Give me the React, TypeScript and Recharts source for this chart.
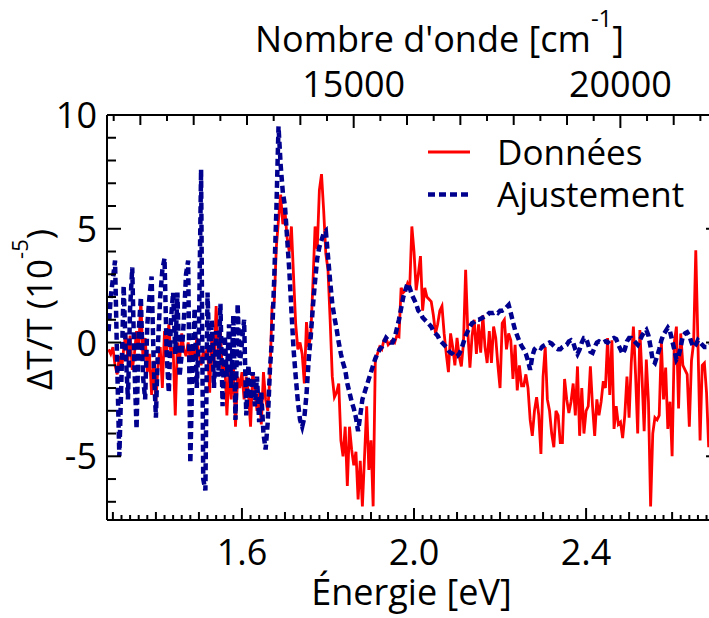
import React from "react";
import { LineChart, Line, XAxis, YAxis, Legend } from "recharts";

// énergie des points [eV]
const energie = [
  1.29, 1.295, 1.3, 1.305, 1.31, 1.315, 1.32, 1.325, 1.33, 1.335,
  1.34, 1.345, 1.35, 1.355, 1.36, 1.365, 1.37, 1.375, 1.38, 1.385,
  1.39, 1.395, 1.4, 1.405, 1.41, 1.415, 1.42, 1.425, 1.43, 1.435,
  1.44, 1.445, 1.45, 1.455, 1.46, 1.465, 1.47, 1.475, 1.48, 1.485,
  1.49, 1.495, 1.5, 1.505, 1.51, 1.515, 1.52, 1.525, 1.53, 1.535,
  1.54, 1.545, 1.55, 1.555, 1.56, 1.565, 1.57, 1.575, 1.58, 1.585,
  1.59, 1.595, 1.6, 1.605, 1.61, 1.615, 1.62, 1.625, 1.63, 1.635,
  1.64, 1.645, 1.65, 1.655, 1.66, 1.665, 1.67, 1.675, 1.68, 1.685,
  1.69, 1.695, 1.7, 1.705, 1.71, 1.715, 1.72, 1.725, 1.73, 1.735,
  1.74, 1.745, 1.75, 1.755, 1.76, 1.765, 1.77, 1.775, 1.78, 1.785,
  1.79, 1.795, 1.8, 1.805, 1.81, 1.815, 1.82, 1.825, 1.83, 1.835,
  1.84, 1.845, 1.85, 1.855, 1.86, 1.865, 1.87, 1.875, 1.88, 1.885,
  1.89, 1.895, 1.9, 1.905, 1.91, 1.915, 1.92, 1.925, 1.93, 1.935,
  1.94, 1.945, 1.95, 1.955, 1.96, 1.965, 1.97, 1.975, 1.98, 1.985,
  1.99, 1.995, 2.0, 2.005, 2.01, 2.015, 2.02, 2.025, 2.03, 2.035,
  2.04, 2.045, 2.05, 2.055, 2.06, 2.065, 2.07, 2.075, 2.08, 2.085,
  2.09, 2.095, 2.1, 2.105, 2.11, 2.115, 2.12, 2.125, 2.13, 2.135,
  2.14, 2.145, 2.15, 2.155, 2.16, 2.165, 2.17, 2.175, 2.18, 2.185,
  2.19, 2.195, 2.2, 2.205, 2.21, 2.215, 2.22, 2.225, 2.23, 2.235,
  2.24, 2.245, 2.25, 2.255, 2.26, 2.265, 2.27, 2.275, 2.28, 2.285,
  2.29, 2.295, 2.3, 2.305, 2.31, 2.315, 2.32, 2.325, 2.33, 2.335,
  2.34, 2.345, 2.35, 2.355, 2.36, 2.365, 2.37, 2.375, 2.38, 2.385,
  2.39, 2.395, 2.4, 2.405, 2.41, 2.415, 2.42, 2.425, 2.43, 2.435,
  2.44, 2.445, 2.45, 2.455, 2.46, 2.465, 2.47, 2.475, 2.48, 2.485,
  2.49, 2.495, 2.5, 2.505, 2.51, 2.515, 2.52, 2.525, 2.53, 2.535,
  2.54, 2.545, 2.55, 2.555, 2.56, 2.565, 2.57, 2.575, 2.58, 2.585,
  2.59, 2.595, 2.6, 2.605, 2.61, 2.615, 2.62, 2.625, 2.63, 2.635,
  2.64, 2.645, 2.65, 2.655, 2.66, 2.665, 2.67, 2.675, 2.68, 2.685,
  2.69,
];

// ΔT/T mesuré (10^-5)
const donnees = [
  -0.3, -0.5, -0.2, -1.0, -1.4, -0.6, -1.2, -0.3, 0.4, -0.8,
  0.3, -1.2, -0.5, 0.5, -0.3, 1.9, -0.8, 0.2, -1.3, -0.5,
  -2.3, -0.8, -2.6, -1.0, -0.2, -2.0, 0.5, -0.4, 0.8, -0.6,
  -0.2, -3.2, 0.0, -0.8, 0.4, -0.3, -0.6, 0.0, -0.8, -0.3,
  -0.7, 0.2, -0.5, -1.0, -0.4, -0.6, -0.2, -2.2, 0.3, -1.0,
  1.6, -0.5, 0.5, -1.5, -0.8, -3.2, -1.2, -2.5, -0.9, -3.7,
  -1.5, -2.0, -1.3, -2.5, -1.5, -2.2, -3.7, -1.3, -2.0, -3.0,
  -2.2, -3.6, -1.3, -2.5, -3.0, -1.5, 1.6, 1.8, 4.2, 5.4,
  6.5, 5.2, 5.8, 4.6, 4.0, 5.1, 2.9, 0.8, -0.3, 0.0,
  -0.5, -1.8, 0.9, -0.2, 0.3, 2.6, 5.1, 4.1, 6.7, 7.4,
  5.8, 3.9, 3.2, 1.0, -1.5, -2.4, -2.2, -1.8, -4.3, -5.0,
  -3.7, -6.3, -3.7, -4.7, -5.4, -4.8, -6.9, -5.2, -7.2, -5.0,
  -2.8, -5.6, -4.3, -7.2, -0.8, -0.5, -0.2, -0.3, 0.1, 0.2,
  -0.1, 0.0, 0.1, 0.0, 0.3, 0.25, 2.4, 2.2, 2.3, 2.6,
  2.4, 5.1, 4.0, 2.3, 3.0, 3.8, 1.4, 2.4, 2.0, 1.9,
  1.8, 1.2, 0.4, 0.8, 1.4, 1.6, 0.4, -0.5, -1.3, 0.4,
  -0.2, -1.0, 0.2, -0.6, -1.05, 0.0, 3.2, 0.5, -1.1, 0.3,
  1.0, -0.5, 0.8, -0.45, 1.2, -0.2, -0.9, 0.5, -0.9, 0.7,
  0.2, -1.0, -2.0, 0.85, 1.0, -0.3, 0.4, 0.1, -1.6, -0.1,
  -2.1, -1.0, -1.9, -1.9, -1.4, -2.0, -3.4, -4.1, -3.0, -2.4,
  -3.2, -4.9, -1.5, -0.2, -2.5, -3.0, -4.0, -4.6, -3.0, -3.2,
  -4.4, -4.4, -1.6, -2.5, -3.1, -2.6, -1.8, -3.2, -1.05, -4.1,
  -2.0, -4.0, -3.0, -2.8, -1.05, -2.8, -4.1, -2.5, -3.2, -2.6,
  -1.7, -2.0, 0.2, -2.3, 0.1, -3.8, -2.8, -3.6, -3.5, -4.2,
  -3.2, -1.5, -3.3, -0.9, 0.7, -1.4, -4.0, 0.55, -1.5, -3.9,
  -0.75, -2.6, -7.2, -4.0, -3.3, -3.4, -3.2, 0.0, -2.5, -1.1,
  -3.8, -2.6, -5.0, 0.0, 0.7, -2.9, 0.4, -1.0, -1.2, -1.4,
  -3.7, -0.8, 0.0, 4.05, 0.0, -4.3, -1.0, -0.9, -2.2, -4.6,
  -3.0,
];

// ΔT/T ajusté (10^-5)
const ajustement = [
  0.5, 2.0, 2.8, 3.6, -1.0, -5.0, -1.5, 2.5, -0.5, -2.5,
  1.5, 3.3, -1.0, -3.8, 0.5, 2.0, -1.5, -2.5, 0.8, 2.0,
  2.9, -1.0, -3.3, 0.0, 2.0, 3.2, 3.7, -0.5, -2.2, 1.0,
  2.2, -0.5, 2.2, -1.5, -0.5, 1.0, 3.0, 3.6, -5.3, -1.0,
  1.5, -2.0, 0.5, 7.6, -6.0, -6.5, 2.2, -1.0, 1.0, -2.0,
  0.5, -1.5, 1.7, -2.8, 0.3, -1.5, 0.8, -2.0, 1.2, -3.4,
  1.7, -1.0, 0.0, 1.0, -3.2, -1.0, -2.5, -1.3, -2.8, -1.5,
  -3.5, -2.2, -4.0, -4.7, -3.5, -1.2, 0.2, 2.8, 5.8, 9.5,
  7.8, 6.6, 6.0, 4.6, 3.2, 1.4, -0.3, -1.5, -2.6, -3.4,
  -3.7, -3.3, -2.3, -0.8, 0.3, 1.6, 2.7, 3.7, 4.2, 4.5,
  4.8, 4.9, 3.8, 2.7, 1.7, 1.1, 0.6, 0.0, -0.5, -0.9,
  -1.2, -1.8, -2.2, -2.6, -2.9, -3.3, -3.9, -3.2, -2.5, -2.2,
  -1.9, -1.6, -1.3, -1.0, -0.7, -0.5, -0.3, -0.2, 0.0, 0.2,
  0.1, 0.0, 0.0, 0.2, 0.6, 1.0, 1.5, 2.0, 2.3, 2.6,
  2.4, 2.1, 1.9, 1.7, 1.4, 1.3, 1.1, 1.0, 0.9, 0.8,
  0.7, 0.5, 0.4, 0.3, 0.1, 0.0, -0.1, -0.2, -0.35, -0.45,
  -0.5, -0.6, -0.6, -0.5, -0.3, 0.0, 0.3, 0.5, 0.7, 0.85,
  0.9, 1.0, 1.0, 1.05, 1.1, 1.15, 1.2, 1.3, 1.3, 1.3,
  1.35, 1.3, 1.4, 1.4, 1.45, 1.55, 1.65, 1.3, 0.9, 0.55,
  0.3, 0.05, -0.15, -0.3, -0.5, -0.8, -1.2, -0.6, -0.3, -0.2,
  -0.2, -0.25, -0.15, -0.1, -0.05, 0.0, -0.05, -0.15, -0.25, -0.3,
  -0.3, -0.2, -0.15, -0.1, 0.05, 0.1, 0.0, -0.3, -0.5, -0.3,
  0.0, 0.2, 0.2, -0.1, -0.4, -0.45, -0.2, 0.0, 0.05, 0.0,
  0.0, 0.05, 0.0, 0.1, 0.15, 0.2, 0.15, -0.1, -0.3, -0.5,
  -0.3, 0.05, 0.2, 0.2, 0.1, 0.0, -0.1, 0.1, 0.3, 0.45,
  0.55, 0.3, -0.2, -0.8, -0.9, -0.6, -0.3, 0.1, 0.35, 0.5,
  0.65, 0.5, 0.1, -0.3, -0.75, -0.6, -0.2, 0.3, 0.4, 0.45,
  0.3, 0.0, -0.2, -0.1, 0.1, 0.0, -0.1, -0.2, -0.2, -0.2,
  -0.1,
];

const series = ["Données", "Ajustement"];
const etiquettesEnergie = [1.6, 2.0, 2.4];
const etiquettesOnde = [15000, 20000];
const etiquettesDeltaT = [10, 5, 0, -5];

// 1 eV = 8065.54 cm^-1
const CM_PAR_EV = 8065.54;

const domaineEnergie: [number, number] = [1.2863, 2.7113];
const domaineDeltaT: [number, number] = [-7.8, 10];

// graduations secondaires
const gradEnergie: number[] = [];
for (let k = 0; k <= 70; k++) gradEnergie.push(Math.round((1.3 + 0.02 * k) * 100) / 100);
const gradOnde: number[] = [];
for (let w = 10500; w <= 21500; w += 500) gradOnde.push(w / CM_PAR_EV);
const gradDeltaT: number[] = [];
for (let v = -7; v <= 10; v++) gradDeltaT.push(v);

const police = "'Open Sans', sans-serif";
const noir = "#000";
const epTick = 2;

function TickBas({ x, y, payload }: any) {
  const v = payload.value;
  const majeur = etiquettesEnergie.some((e) => Math.abs(e - v) < 1e-6);
  const moyen = Math.abs(v * 10 - Math.round(v * 10)) < 1e-6;
  const len = majeur ? 12 : moyen ? 8 : 5;
  return (
    <g>
      <path d={`M${x},${y}V${y - len}`} stroke={noir} strokeWidth={epTick} fill="none" />
      {majeur && (
        <text x={x} y={y + 45} textAnchor="middle" fontFamily={police} fontSize={36} fill={noir}>
          {v.toFixed(1)}
        </text>
      )}
    </g>
  );
}

function TickHaut({ x, y, payload }: any) {
  const w = Math.round(payload.value * CM_PAR_EV);
  const majeur = etiquettesOnde.includes(w);
  const moyen = w % 1000 === 0;
  const len = majeur ? 13 : moyen ? 10 : 6;
  return (
    <g>
      <path d={`M${x},${y}V${y + len}`} stroke={noir} strokeWidth={epTick} fill="none" />
      {majeur && (
        <text x={x} y={y - 18.5} textAnchor="middle" fontFamily={police} fontSize={36} fill={noir}>
          {w}
        </text>
      )}
    </g>
  );
}

function TickGauche({ x, y, payload }: any) {
  const v = payload.value;
  const majeur = etiquettesDeltaT.includes(v);
  const len = majeur ? 14 : 9;
  return (
    <g>
      <path d={`M${x},${y}H${x + len}`} stroke={noir} strokeWidth={epTick} fill="none" />
      {majeur && (
        <text x={x - 10} y={y + 13} textAnchor="end" fontFamily={police} fontSize={36} fill={noir}>
          {String(v)}
        </text>
      )}
    </g>
  );
}

function TickDroite({ x, y, payload }: any) {
  const v = payload.value;
  const len = etiquettesDeltaT.includes(v) ? 14 : 9;
  return <path d={`M${x},${y}H${x - len}`} stroke={noir} strokeWidth={epTick} fill="none" />;
}

function TitreBas({ viewBox }: any) {
  const cx = viewBox.x + viewBox.width / 2 - 2;
  return (
    <text x={cx} y={viewBox.y + 85} textAnchor="middle" fontFamily={police} fontSize={36} fill={noir}>
      Énergie [eV]
    </text>
  );
}

function TitreHaut({ viewBox }: any) {
  const cx = viewBox.x + viewBox.width / 2 + 26;
  return (
    <text x={cx} y={52} textAnchor="middle" fontFamily={police} fontSize={36} fill={noir}>
      Nombre d'onde [cm
      <tspan dy={-25} fontSize={24}>-1</tspan>
      <tspan dy={25}>]</tspan>
    </text>
  );
}

function TitreGauche({ viewBox }: any) {
  const cx = 52;
  const cy = viewBox.y + viewBox.height / 2 - 8;
  return (
    <text
      x={cx}
      y={cy}
      transform={`rotate(-90 ${cx} ${cy})`}
      textAnchor="middle"
      fontFamily={police}
      fontSize={35}
      fill={noir}
    >
      ΔT/T (10
      <tspan dy={-24} fontSize={22}>-5</tspan>
      <tspan dy={24}>)</tspan>
    </text>
  );
}

function Legende({ payload }: any) {
  const items = [...(payload || [])].sort(
    (a: any, b: any) => series.indexOf(a.value) - series.indexOf(b.value)
  );
  return (
    <svg width={285} height={100}>
      {items.map((it: any, i: number) => {
        const yl = 27 + i * 42.5;
        return (
          <g key={it.value}>
            <line
              x1={8}
              x2={50}
              y1={yl}
              y2={yl}
              stroke={it.color}
              strokeWidth={it.payload?.strokeWidth ?? 3}
              strokeDasharray={it.payload?.strokeDasharray}
            />
            <text x={77} y={yl + 12.5} fontFamily={police} fontSize={35} fill={noir}>
              {it.value}
            </text>
          </g>
        );
      })}
    </svg>
  );
}

export default function App() {
  const data = energie.map((e, i) => ({ e, donnees: donnees[i], ajustement: ajustement[i] }));
  const axe = { stroke: noir, strokeWidth: 2 };
  return (
    <div
      style={{
        position: "absolute",
        left: 0,
        top: 0,
        width: 709,
        height: 618,
        overflow: "hidden",
        background: "#fff",
      }}
    >
      <LineChart width={721} height={618} data={data} margin={{ top: 0, right: 0, bottom: 0, left: 0 }}>
        <XAxis
          xAxisId="bas"
          dataKey="e"
          type="number"
          orientation="bottom"
          domain={domaineEnergie}
          allowDataOverflow
          height={98}
          ticks={gradEnergie}
          interval={0}
          tickSize={0}
          tickMargin={0}
          tickLine={false}
          axisLine={axe}
          tick={TickBas}
          label={<TitreBas />}
        />
        <XAxis
          xAxisId="haut"
          dataKey="e"
          type="number"
          orientation="top"
          domain={domaineEnergie}
          allowDataOverflow
          height={115}
          ticks={gradOnde}
          interval={0}
          tickSize={0}
          tickMargin={0}
          tickLine={false}
          axisLine={axe}
          tick={TickHaut}
          label={<TitreHaut />}
        />
        <YAxis
          yAxisId="g"
          type="number"
          orientation="left"
          domain={domaineDeltaT}
          allowDataOverflow
          width={107}
          ticks={gradDeltaT}
          interval={0}
          tickSize={0}
          tickMargin={0}
          tickLine={false}
          axisLine={axe}
          tick={TickGauche}
          label={<TitreGauche />}
        />
        <YAxis
          yAxisId="d"
          type="number"
          orientation="right"
          domain={domaineDeltaT}
          allowDataOverflow
          width={1}
          ticks={gradDeltaT}
          interval={0}
          tickSize={0}
          tickMargin={0}
          tickLine={false}
          axisLine={axe}
          tick={TickDroite}
        />
        <Line
          xAxisId="bas"
          yAxisId="g"
          type="linear"
          dataKey="donnees"
          name="Données"
          stroke="#ff0000"
          strokeWidth={2.8}
          dot={false}
          activeDot={false}
          isAnimationActive={false}
        />
        <Line
          xAxisId="haut"
          yAxisId="d"
          type="linear"
          dataKey="ajustement"
          name="Ajustement"
          stroke="#00008f"
          strokeWidth={4.5}
          strokeDasharray="7 4"
          dot={false}
          activeDot={false}
          isAnimationActive={false}
        />
        <Legend
          layout="horizontal"
          verticalAlign="middle"
          align="center"
          wrapperStyle={{ left: 420, top: 125, width: 285, height: 100 }}
          content={<Legende />}
        />
      </LineChart>
    </div>
  );
}
